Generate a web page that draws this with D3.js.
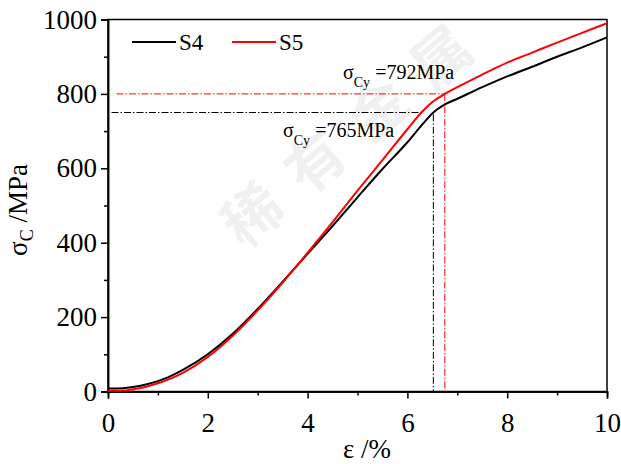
<!DOCTYPE html>
<html><head><meta charset="utf-8">
<script src="https://cdn.jsdelivr.net/npm/d3@7/dist/d3.min.js"></script>
<style>body{margin:0;background:#fff}svg{display:block}
svg text{font-family:"Liberation Serif","Times New Roman","DejaVu Serif",serif}
svg text.wm{font-family:"Noto Sans CJK SC",sans-serif}</style>
</head><body>
<svg id="c" width="621" height="464"></svg>
<script>
const strainS4 = [0,0.3,0.5,0.8,1,1.2,1.5,2,2.5,3,3.5,4,4.5,5,5.5,6,6.3,6.52,6.8,7,7.5,8,8.5,9,9.5,10];
const stressS4 = [8,9,12,20,28,38,58,100,155,222,295,370,445,522,598,670,718,750,775,787,818,847,873,900,925,952];
const strainS5 = [0,0.35,0.6,0.8,1,1.5,2,2.5,3,3.5,4,4.5,5,5.5,6,6.28,6.5,6.75,7,7.5,8,8.5,9,9.5,10];
const stressS5 = [2,3,8,14,22,50,93,150,218,293,373,455,540,622,705,750,778,800,818,852,884,911,938,964,990];
const xTicks = [0,2,4,6,8,10];
const yTicks = [0,200,400,600,800,1000];
const seriesNames = ["S4","S5"];
const seriesColors = ["#000000","#ff0000"];
const yieldStress = [765,792];
const guideStress = [750,800];
const yieldStrain = [6.52,6.75];
const guideStart = [0.07,0.17];
const guideEnd = [6.28,6.75];
const guideTop = [745,800];

const svg = d3.select("#c");
const x = d3.scaleLinear().domain([0,10]).range([108,607]);
const y = d3.scaleLinear().domain([0,1000]).range([391.5,19.5]);

// watermark
const wm = ["稀","有","金","属"];
const wmPos = [[250,212],[313,159],[376,106],[439,54]];
wm.forEach((c,i)=>{
  svg.append("text").attr("class","wm").attr("transform",`translate(${wmPos[i][0]},${wmPos[i][1]}) rotate(-40)`)
    .attr("text-anchor","middle").attr("dominant-baseline","central")
    .attr("font-size",58).attr("font-weight",700)
    .attr("fill","#000").attr("fill-opacity",0.06).text(c);
});

// frame
svg.append("rect").attr("x",108).attr("y",19.5).attr("width",499).attr("height",372)
  .attr("fill","none").attr("stroke","#000").attr("stroke-width",1.5);

// axes
const gx = svg.append("g").attr("transform","translate(0,391.5)")
  .call(d3.axisBottom(x).tickValues(xTicks).tickSize(7).tickPadding(14).tickFormat(d3.format("d")));
const gxm = svg.append("g").attr("transform","translate(0,391.5)")
  .call(d3.axisBottom(x).tickValues([1,3,5,7,9]).tickSize(4).tickFormat(""));
const gy = svg.append("g").attr("transform","translate(108,0)")
  .call(d3.axisLeft(y).tickValues(yTicks).tickSize(7).tickPadding(4).tickFormat(d3.format("d")));
const gym = svg.append("g").attr("transform","translate(108,0)")
  .call(d3.axisLeft(y).tickValues([100,300,500,700,900]).tickSize(4).tickFormat(""));
[gx,gxm,gy,gym].forEach(g=>{
  g.attr("font-family",null);
  g.select(".domain").attr("stroke","#000").attr("stroke-width",1.5);
  g.selectAll(".tick line").attr("stroke","#000").attr("stroke-width",1.5);
  g.selectAll(".tick text").attr("font-size",27).attr("fill","#000");
});
gx.selectAll(".tick text").attr("dy","0.71em");

// yield guide lines
const dashes = "7,2,1.5,2";
guideStress.forEach((s,i)=>{
  svg.append("line").attr("x1",x(guideStart[i])).attr("x2",x(guideEnd[i]))
    .attr("y1",y(s)).attr("y2",y(s)).attr("stroke",seriesColors[i]).attr("stroke-width",1).attr("stroke-dasharray",dashes);
  svg.append("line").attr("x1",x(yieldStrain[i])).attr("x2",x(yieldStrain[i]))
    .attr("y1",y(guideTop[i])).attr("y2",y(0)).attr("stroke",seriesColors[i]).attr("stroke-width",1).attr("stroke-dasharray",dashes);
});

// curves
const line = d3.line().x(d=>x(d[0])).y(d=>y(d[1])).curve(d3.curveMonotoneX);
const data = [d3.zip(strainS4,stressS4), d3.zip(strainS5,stressS5)];
data.forEach((d,i)=>{
  svg.append("path").datum(d).attr("d",line).attr("fill","none")
    .attr("stroke",seriesColors[i]).attr("stroke-width",2);
});

// legend
const legX = [132,232];
seriesNames.forEach((n,i)=>{
  svg.append("line").attr("x1",legX[i]).attr("x2",legX[i]+44).attr("y1",42).attr("y2",42)
    .attr("stroke",seriesColors[i]).attr("stroke-width",2);
  svg.append("text").attr("x",legX[i]+47).attr("y",50).attr("font-size",23).text(n);
});

// annotations
const annPos = [[283,137],[343,79]];
yieldStress.forEach((s,i)=>{
  const t = svg.append("text").attr("x",annPos[i][0]).attr("y",annPos[i][1]).attr("font-size",20);
  t.append("tspan").text("σ");
  t.append("tspan").attr("font-size",14).attr("dy",8).text("Cy");
  t.append("tspan").attr("dy",-8).text(" =" + s + "MPa");
});

// axis titles
svg.append("text").attr("x",367).attr("y",458).attr("text-anchor","middle")
  .attr("font-size",27).text("ε /%");
const yt = svg.append("text").attr("transform","translate(27,210) rotate(-90)").attr("text-anchor","middle")
  .attr("font-size",27);
yt.append("tspan").text("σ");
yt.append("tspan").attr("font-size",18).attr("dy",6).text("C");
yt.append("tspan").attr("dy",-6).text(" /MPa");
</script>
</body></html>
